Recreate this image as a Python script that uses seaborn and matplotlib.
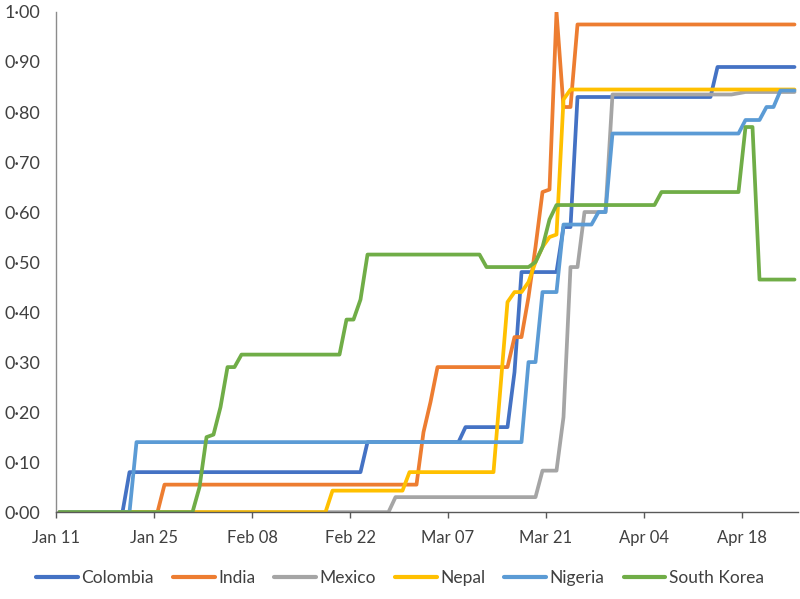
import pandas as pd
import matplotlib
matplotlib.use("Agg")
import matplotlib.pyplot as plt
import matplotlib.dates as mdates
from matplotlib.ticker import FuncFormatter, MultipleLocator
import seaborn as sns

# day offsets from Jan 11 2020 and the value on that day
start = pd.Timestamp("2020-01-11")

colombia_days = [0, 9, 10, 43, 44, 57, 58, 64, 65, 66, 71, 72, 73, 74, 93, 94, 105]
colombia_vals = [0, 0, 0.08, 0.08, 0.14, 0.14, 0.17, 0.17, 0.28, 0.48, 0.48, 0.57, 0.57, 0.83, 0.83, 0.89, 0.89]

india_days = [0, 14, 15, 51, 52, 53, 54, 64, 65, 66, 67, 68, 69, 70, 71, 72, 73, 74, 105]
india_vals = [0, 0, 0.055, 0.055, 0.16, 0.22, 0.29, 0.29, 0.35, 0.35, 0.43, 0.53, 0.64, 0.645, 1.0, 0.81, 0.81, 0.975, 0.975]

mexico_days = [0, 47, 48, 68, 69, 71, 72, 73, 74, 75, 78, 79, 96, 98, 105]
mexico_vals = [0, 0, 0.03, 0.03, 0.083, 0.083, 0.19, 0.49, 0.49, 0.60, 0.60, 0.835, 0.835, 0.84, 0.84]

nepal_days = [0, 38, 39, 49, 50, 62, 63, 64, 65, 66, 67, 68, 69, 70, 71, 72, 73, 105]
nepal_vals = [0, 0, 0.043, 0.043, 0.08, 0.08, 0.25, 0.42, 0.44, 0.44, 0.46, 0.50, 0.53, 0.55, 0.555, 0.825, 0.845, 0.845]

nigeria_days = [0, 10, 11, 66, 67, 68, 69, 71, 72, 76, 77, 78, 79, 97, 98, 100, 101, 102, 103, 105]
nigeria_vals = [0, 0, 0.14, 0.14, 0.30, 0.30, 0.44, 0.44, 0.575, 0.575, 0.60, 0.60, 0.757, 0.757, 0.784, 0.784, 0.81, 0.81, 0.843, 0.843]

korea_days = [0, 19, 20, 21, 22, 23, 24, 25, 26, 40, 41, 42, 43, 44, 60, 61, 67, 68, 69, 70, 71, 85, 86, 97, 98, 99, 100, 105]
korea_vals = [0, 0, 0.05, 0.15, 0.155, 0.21, 0.29, 0.29, 0.315, 0.315, 0.385, 0.385, 0.425, 0.515, 0.515, 0.49, 0.49, 0.50, 0.53, 0.585, 0.614, 0.614, 0.64, 0.64, 0.77, 0.77, 0.465, 0.465]

countries = ["Colombia", "India", "Mexico", "Nepal", "Nigeria", "South Korea"]
colors = ["#4472C4", "#ED7D31", "#A5A5A5", "#FFC000", "#5B9BD5", "#70AD47"]

series = {
    "Colombia": (colombia_days, colombia_vals),
    "India": (india_days, india_vals),
    "Mexico": (mexico_days, mexico_vals),
    "Nepal": (nepal_days, nepal_vals),
    "Nigeria": (nigeria_days, nigeria_vals),
    "South Korea": (korea_days, korea_vals),
}

# build long-form table; points sit in the middle of each day (date axis style)
rows = []
for name in countries:
    days, vals = series[name]
    for d, v in zip(days, vals):
        rows.append({"date": start + pd.Timedelta(days=d, hours=12), "value": v, "country": name})
df = pd.DataFrame(rows)

sns.set_style("white")
plt.rcParams["font.family"] = ["Lato", "DejaVu Sans"]

fig, ax = plt.subplots(figsize=(8, 5.99), dpi=100)
fig.subplots_adjust(left=0.07, right=0.9975, top=0.98, bottom=0.145)

sns.lineplot(data=df, x="date", y="value", hue="country", hue_order=countries,
             palette=colors, estimator=None, linewidth=2.7, ax=ax)

ax.set_ylim(0, 1.0)
ax.set_xlim(start, pd.Timestamp("2020-04-26"))
ax.yaxis.set_major_locator(MultipleLocator(0.1))
ax.yaxis.set_major_formatter(FuncFormatter(lambda v, p: f"{v:.2f}".replace(".", "\u00b7")))
ax.set_xticks(pd.date_range("2020-01-11", "2020-04-18", freq="14D"))
ax.xaxis.set_major_formatter(mdates.DateFormatter("%b %d"))
ax.set_xlabel("")
ax.set_ylabel("")

ax.tick_params(axis="y", length=0, pad=11, labelsize=13, labelcolor="#404040")
ax.tick_params(axis="x", length=4, width=1, color="#595959", pad=9, labelsize=12, labelcolor="#404040", direction="out")
ax.xaxis.set_ticks_position("bottom")
sns.despine(ax=ax)
ax.spines["left"].set_color("#8c8c8c")
ax.spines["bottom"].set_color("#595959")
ax.spines["left"].set_linewidth(1)
ax.spines["bottom"].set_linewidth(1)

handles, labels = ax.get_legend_handles_labels()
ax.get_legend().remove()
for h in handles:
    h.set_linewidth(3)
fig.legend(handles, labels, loc="center", bbox_to_anchor=(0.5, 0.035), ncol=6,
           frameon=False, fontsize=12.5, handlelength=2.4, handletextpad=0.2,
           columnspacing=1.1, labelcolor="#404040")

plt.savefig("out.png", dpi=100)
